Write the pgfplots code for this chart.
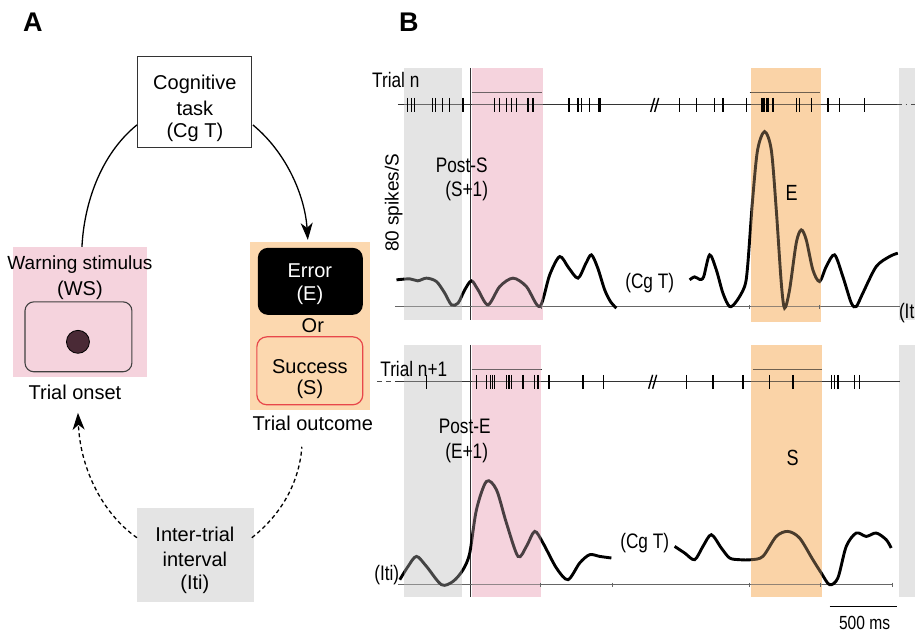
\documentclass[border=0pt]{standalone}
\usepackage{fontspec}
\setmainfont{Liberation Sans}
\newfontfamily\narrowfont[FakeStretch=0.82]{Liberation Sans}
\usepackage{pgfplots}
\pgfplotsset{compat=1.18}
\usetikzlibrary{arrows.meta}
\definecolor{pinkbg}{HTML}{F5D3DD}
\definecolor{orangebg}{HTML}{FCD8AF}
\definecolor{graybg}{HTML}{E4E4E4}
\definecolor{redb}{HTML}{E8474A}
\definecolor{dotc}{HTML}{4A2A36}
\definecolor{tintorange}{HTML}{F8C995}
\newcommand{\fA}{\fontsize{20bp}{24bp}\selectfont}
\newcommand{\fB}{\narrowfont\fontsize{21bp}{25bp}\selectfont}
\begin{document}
\begin{tikzpicture}
\begin{axis}[x=1bp,y=1bp,xmin=0,xmax=915,ymin=0,ymax=634,y dir=reverse,
  hide axis,clip=false]
\addplot[draw=none] coordinates {(0,0) (915,634)};
% ---------------- Panel A ----------------
\node[font=\fontsize{27bp}{30bp}\selectfont\bfseries] at (33,22) {A};
\node[font=\fontsize{27bp}{30bp}\selectfont\bfseries] at (409,22) {B};
\draw[line width=1bp, black!80] (138,57) rectangle (252,148);
\node[font=\fA, inner sep=1bp] at (195,84) {Cognitive};
\node[font=\fA, inner sep=1bp] at (195,108) {task};
\node[font=\fA, inner sep=1bp] at (195,132) {(Cg T)};
% warning stimulus
\fill[pinkbg] (13,247) rectangle (147,377);
\draw[line width=1.1bp, draw=black!75, rounded corners=9bp] (25,302) rectangle (132,372);
\draw[fill=dotc, draw=black, line width=0.8bp] (78,342) circle[radius=11.5bp];
\node[font=\fontsize{19bp}{22bp}\selectfont, inner sep=1bp] at (80,265) {Warning stimulus};
\node[font=\fA, inner sep=1bp] at (80,290) {(WS)};
\node[font=\fA] at (75,393) {Trial onset};
% outcome
\fill[orangebg] (250,242) rectangle (370,410);
\fill[black, rounded corners=10bp] (258,248) rectangle (363,315);
\node[font=\fA, white, inner sep=0pt] at (310,271) {Error};
\node[font=\fA, white, inner sep=0pt] at (310,295) {(E)};
\node[font=\fA, inner sep=1bp] at (313,326) {Or};
\draw[redb, line width=1.2bp, rounded corners=10bp] (257,337) rectangle (363,405);
\node[font=\fA, inner sep=0pt] at (310,367) {Success};
\node[font=\fA, inner sep=0pt] at (310,390) {(S)};
\node[font=\fA] at (313,424) {Trial outcome};
% inter-trial
\fill[graybg] (137,508) rectangle (254,602);
\node[font=\fA, inner sep=1bp] at (195,535) {Inter-trial};
\node[font=\fA, inner sep=1bp] at (195,560) {interval};
\node[font=\fA, inner sep=1bp] at (195,585) {(Iti)};
% arrows
\draw[line width=1.3bp] (137,125) .. controls (100,155) and (84,205) .. (82,247);
\draw[line width=1.3bp, -{Stealth[length=17bp,width=12bp,inset=5bp]}] (253,125) .. controls (286,152) and (305,195) .. (308,240);
\draw[line width=1.3bp, dash pattern=on 4bp off 3bp, -{Stealth[length=17bp,width=12bp,inset=5bp]}] (137,538) .. controls (100,512) and (80,465) .. (78,413);
\draw[line width=1.3bp, dash pattern=on 4bp off 3bp] (252,538) .. controls (285,512) and (300,478) .. (302,447);
% ---------------- Panel B ----------------
% shaded regions (top)
\addplot[fill=graybg, draw=none] coordinates {(404,68) (462,68) (462,320) (404,320)} -- cycle;
\addplot[fill=pinkbg, draw=none] coordinates {(472,68) (543,68) (543,320) (472,320)} -- cycle;
\addplot[fill=orangebg, draw=none] coordinates {(751,68) (821,68) (821,322) (751,322)} -- cycle;
\addplot[fill=graybg, draw=none] coordinates {(899,68) (915,68) (915,320) (899,320)} -- cycle;
% shaded regions (bottom)
\addplot[fill=graybg, draw=none] coordinates {(404,345) (462,345) (462,597) (404,597)} -- cycle;
\addplot[fill=pinkbg, draw=none] coordinates {(472,345) (541,345) (541,597) (472,597)} -- cycle;
\addplot[fill=orangebg, draw=none] coordinates {(751,345) (822,345) (822,597) (751,597)} -- cycle;
\addplot[fill=graybg, draw=none] coordinates {(899,345) (915,345) (915,597) (899,597)} -- cycle;
% vertical onset lines
\addplot[black!80, line width=1bp] coordinates {(471,68) (471,320)};
\addplot[black!80, line width=1bp] coordinates {(471,345) (471,597)};
% raster lines
\addplot[black!80, line width=1bp] coordinates {(398,105) (897,105)};
\addplot[black!70, line width=1bp, dash pattern=on 5bp off 4bp on 1.5bp off 4bp] coordinates {(897,105) (915,105)};
\addplot[black!80, line width=1bp] coordinates {(472,93) (542,93)};
\addplot[black!80, line width=1bp] coordinates {(750,93) (820,93)};
\addplot[black!80, line width=1bp] coordinates {(395,382) (900,382)};
\addplot[black!70, line width=1bp, dash pattern=on 5bp off 4bp] coordinates {(377,382) (395,382)};
\addplot[black!80, line width=1bp] coordinates {(472,370) (542,370)};
\addplot[black!80, line width=1bp] coordinates {(753,370) (822,370)};
% spikes
\addplot[only marks, mark=|, mark size=7, mark options={line width=1.3bp, black}] coordinates {
(407.7,105) (411.7,105) (415,105) (432.7,105) (436,105) (442.7,105) (450,105) (463.3,105)
(495,105) (500,105) (506.7,105) (511.7,105) (516.7,105) (528.3,105) (533.3,105)
(569.3,105) (578.3,105) (581.7,105) (590,105) (599.3,105) (600.7,105)
(680,105) (696.7,105) (715,105) (723.3,105) (746.7,105)
(761.7,105) (763.3,105) (765,105) (766.7,105) (768.3,105) (773.3,105)
(796.7,105) (800,105) (811.7,105) (828.3,105) (840,105) (865,105)};
\addplot[only marks, mark=|, mark size=7, mark options={line width=1.3bp, black}] coordinates {
(426.7,382) (476.7,382) (486.7,382) (491,382) (492.7,382) (495,382) (506.7,382) (509.3,382) (511.7,382)
(523.3,382) (535,382) (538.3,382) (549.3,382) (583.3,382) (604,382)
(686.7,382) (713.3,382) (743.3,382) (770,382) (793.3,382)
(831.7,382) (835,382) (838.3,382) (855,382) (860,382)};
% break marks
\draw[line width=1.4bp] (651,112) -- (655,98);
\draw[line width=1.4bp] (655,112) -- (659,98);
\draw[line width=1.4bp] (649,389) -- (653,375);
\draw[line width=1.4bp] (653,389) -- (657,375);
% baselines
\addplot[black!60, line width=0.9bp] coordinates {(395,307) (900,307)};
\addplot[black!60, line width=0.9bp] coordinates {(398,585) (893,585)};
\addplot[only marks, mark=|, mark size=2, mark options={line width=0.8bp, black!60}] coordinates {(542,307) (750,307) (820,307)};
\addplot[only marks, mark=|, mark size=2, mark options={line width=0.8bp, black!60}] coordinates {(541,585) (613,585) (750,585) (821,585) (893,585)};
% firing-rate curves (top, trial n)
\addplot[black, line width=2.9bp, smooth, tension=0.5] coordinates {
(396.7,280) (410,279) (418,281) (426.7,278.3) (436.7,281.7) (445,293.3) (451.7,305) (458.3,303.3)
(465,290) (471.7,281) (478.3,290) (488.3,305) (500,286.7) (513.3,278.3) (526.7,286.7) (540,306.7)
(550,275) (560,256.7) (569,268) (578.3,278.3) (586,264) (591.7,255) (598,268) (605,290) (611,302) (616.7,308.3)};
\addplot[black, line width=2.9bp, smooth, tension=0.5] coordinates {
(690,280) (695,277) (700,279.5) (704,277) (710,255) (716.7,270) (723.3,293.3) (730,306.7) (736.7,301.7)
(745,286.7) (748,266.7) (753,200) (758,150) (765,131.7) (771.7,150) (776.7,210) (781.7,283) (785,308.3)
(790,290) (796.7,243) (801.7,230) (806.7,240) (813.3,270) (820,281.7) (826.7,266.7) (835,255)
(843.3,276.7) (851.7,303) (856.7,306.7) (863.3,293.3) (876.7,266.7) (890,256.7) (898.3,253.3)};
% firing-rate curves (bottom, trial n+1)
\addplot[black, line width=2.9bp, smooth, tension=0.5] coordinates {
(400,580) (408.3,566.7) (416.7,556.7) (426.7,566.7) (441.7,585) (453.3,581.7) (463.3,570) (470,553.3)
(476.7,510) (486.7,481.7) (496.7,490) (506.7,523.3) (518.3,556.7) (526.7,546.7) (535,531.7)
(543.3,543.3) (556.7,568.3) (568.3,580) (580,563.3) (590,555) (600,556.7) (611.7,558.3)};
\addplot[black, line width=2.9bp, smooth, tension=0.5] coordinates {
(675,546.7) (685,553.3) (695,560) (703.3,546.7) (711.7,535) (721.7,548.3) (730,558.3) (740,560)
(751.7,560) (763.3,556.7) (776.7,536.7) (788.3,531.7) (800,538.3) (813.3,560) (821.7,573.3)
(830,585) (838.3,578.3) (846.7,546.7) (856.7,533.3) (866.7,536.7) (876.7,533.3) (886.7,540) (891.7,548.3)};
% translucent tint over the curves (full height of each region)
\addplot[fill=graybg, fill opacity=0.3, draw=none] coordinates {(404,68) (462,68) (462,320) (404,320)} -- cycle;
\addplot[fill=pinkbg, fill opacity=0.3, draw=none] coordinates {(472,68) (543,68) (543,320) (472,320)} -- cycle;
\addplot[fill=tintorange, fill opacity=0.3, draw=none] coordinates {(751,68) (821,68) (821,322) (751,322)} -- cycle;
\addplot[fill=graybg, fill opacity=0.3, draw=none] coordinates {(404,345) (462,345) (462,597) (404,597)} -- cycle;
\addplot[fill=pinkbg, fill opacity=0.3, draw=none] coordinates {(472,345) (541,345) (541,597) (472,597)} -- cycle;
\addplot[fill=tintorange, fill opacity=0.3, draw=none] coordinates {(751,345) (822,345) (822,597) (751,597)} -- cycle;
% labels panel B
\node[font=\fB] at (396,80) {Trial n};
\node[font=\fB] at (414,369) {Trial n+1};
\node[font=\fontsize{19bp}{22bp}\selectfont, rotate=90] at (394,203) {80 spikes/S};
\node[font=\fB, inner sep=1bp] at (462,165) {Post-S};
\node[font=\fB, inner sep=1bp] at (467,191) {(S+1)};
\node[font=\fB, inner sep=1bp] at (465,427) {Post-E};
\node[font=\fB, inner sep=1bp] at (467,453) {(E+1)};
\node[font=\fB] at (650,283) {(Cg T)};
\node[font=\fB] at (645,543) {(Cg T)};
\node[font=\fontsize{22bp}{25bp}\selectfont\narrowfont] at (792,193) {E};
\node[font=\fontsize{22bp}{25bp}\selectfont\narrowfont] at (793,458) {S};
\node[font=\fB] at (387,575) {(Iti)};
\node[font=\fB, anchor=east, inner sep=0pt] at (915,313) {(It};
\addplot[black, line width=1.2bp] coordinates {(830,607) (897,607)};
\node[font=\fontsize{19bp}{22bp}\selectfont\narrowfont] at (865,623) {500 ms};
\end{axis}
\end{tikzpicture}
\end{document}
